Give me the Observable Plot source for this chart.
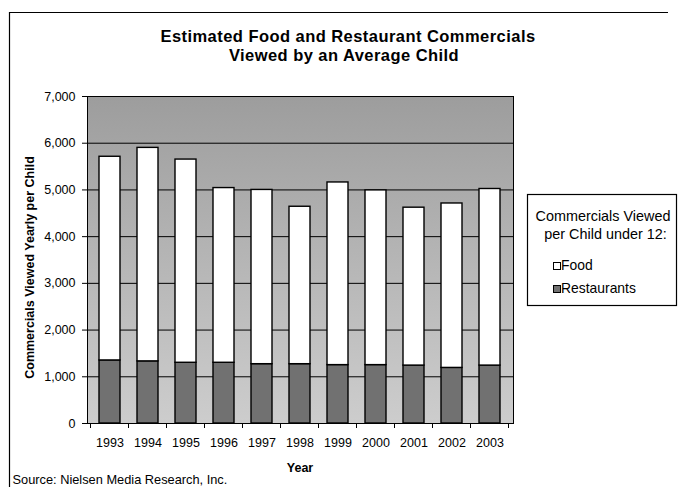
<!DOCTYPE html>
<html>
<head>
<meta charset="utf-8">
<script src="https://cdn.jsdelivr.net/npm/d3@7"></script>
<script src="https://cdn.jsdelivr.net/npm/@observablehq/plot@0.6"></script>
<style>
  body { margin: 0; background: #fff; }
  #chart svg { display: block; }
</style>
</head>
<body>
<div id="chart"></div>
<script>
// Commercials viewed per child per year, split by advertiser type
const years = ["1993", "1994", "1995", "1996", "1997", "1998", "1999", "2000", "2001", "2002", "2003"];
const food = [4360, 4570, 4350, 3740, 3730, 3370, 3910, 3740, 3380, 3520, 3780];
const restaurants = [1350, 1330, 1300, 1300, 1270, 1270, 1250, 1250, 1240, 1190, 1240];
const yTicks = [0, 1000, 2000, 3000, 4000, 5000, 6000, 7000];
const seriesNames = ["Restaurants", "Food"];
const seriesColors = ["#717171", "#ffffff"];
const legendOrder = ["Food", "Restaurants"];

const titleLines = ["Estimated Food and Restaurant Commercials", "Viewed by an Average Child"];
const yTitle = "Commercials Viewed Yearly per Child";
const xTitle = "Year";
const legendTitle = ["Commercials Viewed", "per Child under 12:"];
const sourceNote = "Source: Nielsen Media Research, Inc.";

const rows = years.flatMap((year, i) => [
  {year, kind: "Restaurants", value: restaurants[i]},
  {year, kind: "Food", value: food[i]}
]);

const W = 680, H = 487;
const font = "'Liberation Sans', Arial, Helvetica, sans-serif";

// gradient used for the plot wall
const wallDefs = () => {
  const defs = d3.create("svg:defs");
  const g = defs.append("linearGradient")
    .attr("id", "wall").attr("x1", 0).attr("y1", 0).attr("x2", 0).attr("y2", 1);
  g.append("stop").attr("offset", "0%").attr("stop-color", "#9d9d9d");
  g.append("stop").attr("offset", "45%").attr("stop-color", "#b3b3b3");
  g.append("stop").attr("offset", "100%").attr("stop-color", "#cdcdcd");
  return defs.node();
};

const plot = Plot.plot({
  width: W,
  height: H,
  marginTop: 96,
  marginRight: 167,
  marginBottom: 64,
  marginLeft: 87,
  style: {fontFamily: font, fontSize: "12.5px", color: "#000", background: "#fff"},
  x: {domain: years, paddingInner: 0.44, paddingOuter: 0.22, axis: null},
  y: {domain: [0, 7000], axis: null},
  color: {domain: seriesNames, range: seriesColors},
  marks: [
    wallDefs,
    Plot.frame({fill: "url(#wall)", stroke: "none"}),
    Plot.gridY(yTicks, {stroke: "#000", strokeOpacity: 1, strokeWidth: 1}),
    Plot.barY(rows, {x: "year", y: "value", fill: "kind", order: seriesNames, stroke: "#000", strokeWidth: 1.4}),
    Plot.frame({stroke: "#000", strokeWidth: 1}),
    Plot.axisY(yTicks, {tickFormat: d3.format(","), tickSize: 5, tickPadding: 7, fontSize: 12.5, label: null}),
    Plot.axisX({tickSize: 0, tickPadding: 14.5, fontSize: 12.5, label: null})
  ]
});

document.getElementById("chart").appendChild(plot);

const svg = d3.select(plot);
const xs = plot.scale("x");
const ys = plot.scale("y");
const color = plot.scale("color");
const gap = (xs.step - xs.bandwidth) / 2;
const baseY = ys.apply(0);

// category separators below the baseline
const seps = years.map(y => xs.apply(y) - gap).concat([xs.apply(years[years.length - 1]) + xs.bandwidth + gap]);
svg.append("g").attr("stroke", "#000").attr("stroke-width", 1)
  .selectAll("line").data(seps).join("line")
  .attr("x1", d => d).attr("x2", d => d)
  .attr("y1", baseY).attr("y2", baseY + 5);

// outer border (top and left edges)
svg.append("path")
  .attr("d", "M9.5,487 V12.5 H668")
  .attr("fill", "none").attr("stroke", "#000").attr("stroke-width", 1.2);

// title
const title = svg.append("text")
  .attr("text-anchor", "middle")
  .attr("font-family", font).attr("font-weight", "bold")
  .attr("font-size", 16.5).attr("letter-spacing", 0.45).attr("fill", "#000");
title.selectAll("tspan").data(titleLines).join("tspan")
  .attr("x", (d, i) => 348 - i * 4).attr("y", (d, i) => 42 + i * 18.5).text(d => d);

// y-axis title
svg.append("text")
  .attr("transform", `translate(33.5,${(96 + 423) / 2 + 8}) rotate(-90)`)
  .attr("text-anchor", "middle")
  .attr("font-family", font).attr("font-weight", "bold").attr("font-size", 12.5)
  .attr("fill", "#000").text(yTitle);

// x-axis title
svg.append("text")
  .attr("x", 300).attr("y", 472)
  .attr("text-anchor", "middle")
  .attr("font-family", font).attr("font-weight", "bold").attr("font-size", 12.5)
  .attr("fill", "#000").text(xTitle);

// source note
svg.append("text")
  .attr("x", 12.5).attr("y", 484)
  .attr("text-anchor", "start")
  .attr("font-family", font).attr("font-size", 12.8)
  .attr("fill", "#000").text(sourceNote);

// legend
const lg = svg.append("g").attr("font-family", font).attr("fill", "#000");
lg.append("rect")
  .attr("x", 527.5).attr("y", 194.5).attr("width", 149).attr("height", 111)
  .attr("fill", "#fff").attr("stroke", "#000").attr("stroke-width", 1.2);
lg.append("text").attr("text-anchor", "middle").attr("font-size", 14.4)
  .selectAll("tspan").data(legendTitle).join("tspan")
  .attr("x", (d, i) => 603 + i * 2.5).attr("y", (d, i) => 220.5 + i * 18.5).text(d => d);
const items = lg.selectAll("g.item").data(legendOrder).join("g")
  .attr("transform", (d, i) => `translate(553,${270 + i * 23})`);
items.append("rect")
  .attr("x", 0.5).attr("y", -7.5).attr("width", 7).attr("height", 7)
  .attr("fill", d => color.apply(d)).attr("stroke", "#000").attr("stroke-width", 1);
items.append("text")
  .attr("x", 8).attr("y", 0).attr("text-anchor", "start")
  .attr("font-size", 13.9).text(d => d);
</script>
</body>
</html>
